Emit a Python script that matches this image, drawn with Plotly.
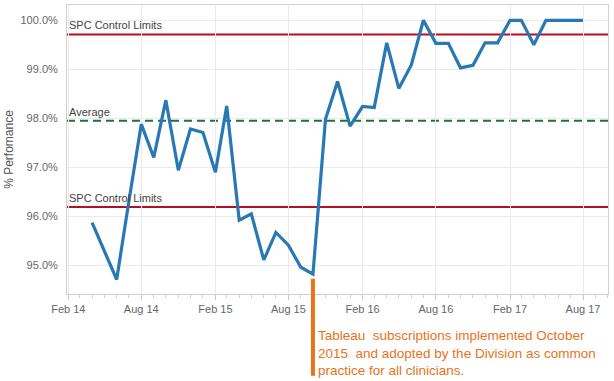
import pandas as pd
import plotly.graph_objects as go

# ---- data ----
months = pd.date_range("2014-04-01", "2017-08-01", freq="MS")
performance = [
    95.87, 95.29, 94.71, 96.29, 97.88, 97.20, 98.37, 96.94, 97.78,          # 2014 Apr-Dec
    97.71, 96.90, 98.25, 95.92, 96.05, 95.11, 95.67, 95.41, 94.96, 94.82, 97.98, 98.75,  # 2015
    97.84, 98.24, 98.22, 99.54, 98.61, 99.09, 100.0, 99.53, 99.53, 99.03, 99.08, 99.54,  # 2016
    99.54, 100.0, 100.0, 99.50, 100.0, 100.0, 100.0, 100.0,                 # 2017 Jan-Aug
]
upper_limit = 99.71
lower_limit = 96.19
average = 97.95
event_date = "2015-10-01"
event_text = ("Tableau  subscriptions implemented October<br>"
              "2015  and adopted by the Division as common<br>"
              "practice for all clinicians.")
y_title = "% Perfomance"

FONT = "Arial, 'Liberation Sans', sans-serif"
ORANGE = "#E8731A"
RED = "#B40F22"
GREEN = "#21703B"
BLUE = "#2878B4"

fig = go.Figure()
fig.add_trace(go.Scatter(
    x=months, y=performance, mode="lines",
    line=dict(color=BLUE, width=3.2), hoverinfo="skip", showlegend=False,
))

# control / average lines
for val, col, dash in [(upper_limit, RED, "solid"), (lower_limit, RED, "solid"), (average, GREEN, "8px,5px")]:
    fig.add_shape(type="line", xref="paper", yref="y", x0=0, x1=1, y0=val, y1=val,
                  line=dict(color=col, width=2.2, dash=dash), layer="between")

for val, txt in [(upper_limit, "SPC Control Limits"), (average, "Average"), (lower_limit, "SPC Control Limits")]:
    fig.add_annotation(xref="paper", yref="y", x=0, y=val, text=txt, showarrow=False,
                       xanchor="left", yanchor="bottom", xshift=0, yshift=1,
                       font=dict(family=FONT, size=11, color="#444444"))

# event marker
fig.add_shape(type="line", xref="x", yref="paper", x0=event_date, x1=event_date,
              y0=0.053, y1=-0.283, line=dict(color=ORANGE, width=4), layer="above")
fig.add_annotation(xref="x", yref="paper", x=event_date, y=-0.11, text=event_text,
                   showarrow=False, xanchor="left", yanchor="top", align="left", xshift=3,
                   font=dict(family=FONT, size=13.5, color=ORANGE))

fig.update_layout(
    width=614, height=381,
    margin=dict(l=67, r=6, t=5, b=87, autoexpand=False),
    paper_bgcolor="white", plot_bgcolor="white",
    font=dict(family=FONT, size=11, color="#666666"),
    showlegend=False,
)
fig.update_xaxes(
    type="date", range=["2014-01-28 18:00", "2017-10-02"], automargin=False,
    tick0="2014-02-01", dtick="M6", tickformat="%b %y",
    ticks="outside", ticklen=5, tickcolor="#c8c8c8", tickwidth=1,
    minor=dict(dtick="M1", tick0="2014-02-01", ticks="outside", ticklen=3,
               tickcolor="#d0d0d0", showgrid=False),
    showgrid=True, gridcolor="#ebebeb", gridwidth=1,
    showline=True, linecolor="#d0d0d0", linewidth=1, mirror=True,
    zeroline=False, tickfont=dict(family=FONT, size=11, color="#666666"),
)
fig.update_yaxes(
    range=[94.414, 100.312], dtick=1, tick0=95, tickformat=".1f", ticksuffix="%",
    automargin=False,
    showgrid=True, gridcolor="#ebebeb", gridwidth=1,
    showline=True, linecolor="#d0d0d0", linewidth=1, mirror=True,
    zeroline=False, ticklabelstandoff=6,
    tickfont=dict(family=FONT, size=11, color="#666666"),
    title=dict(text=y_title, standoff=4, font=dict(family=FONT, size=12, color="#555555")),
)

fig.write_html("out.html", config={"displayModeBar": False},
               post_script="document.body.style.margin='0px';")
